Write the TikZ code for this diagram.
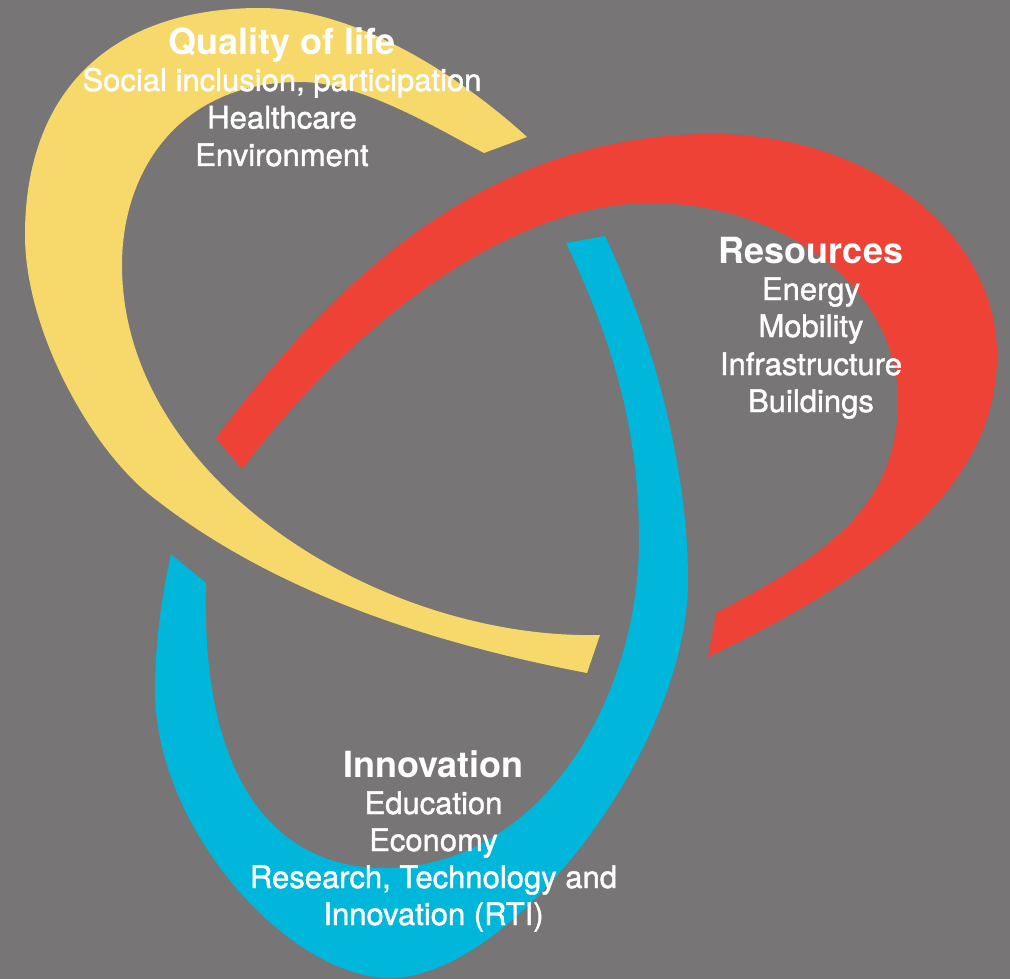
\documentclass[tikz,border=0pt]{standalone}
\usepackage{fontspec}
\setmainfont{TeX Gyre Heros}
\newfontfamily\medfont{TeX Gyre Heros}[RawFeature={embolden=1.3}]
\definecolor{bg}{HTML}{777576}
\definecolor{qyellow}{HTML}{F6D86B}
\definecolor{qred}{HTML}{EE4237}
\definecolor{qblue}{HTML}{00B6DB}
\begin{document}
\begin{tikzpicture}[x=1pt,y=-1pt,
  body/.style={text=white,font=\medfont\fontsize{31}{37}\selectfont,inner sep=0pt,anchor=base},
  head/.style={body,font=\fontsize{36}{40}\selectfont\bfseries}]
\fill[bg] (0,0) rectangle (1010,979);
\useasboundingbox (0,0) rectangle (1010,979);
% yellow band
\fill[qyellow] (527,137) .. controls (467,82) and (360,8) .. (260,8)
  .. controls (110,8) and (25,92) .. (25,235)
  .. controls (25,330) and (90,447) .. (150,495)
  .. controls (267,588) and (420,641) .. (587,673)
  -- (600,635)
  .. controls (380,640) and (122,480) .. (122,265)
  .. controls (122,170) and (180,82) .. (300,82)
  .. controls (360,82) and (431,125) .. (484,153) -- cycle;
% red band
\fill[qred] (216,438) .. controls (348,262) and (500,134) .. (713,134)
  .. controls (870,134) and (997,233) .. (997,355)
  .. controls (997,480) and (890,570) .. (708,657)
  -- (716,613)
  .. controls (822,557) and (898,510) .. (898,400)
  .. controls (898,291) and (787,203) .. (650,203)
  .. controls (520,203) and (364,309) .. (242,469) -- cycle;
% blue band
\fill[qblue] (605,236) .. controls (660,353) and (688,480) .. (688,580)
  .. controls (688,750) and (510,978) .. (390,978)
  .. controls (290,978) and (155,830) .. (155,690)
  .. controls (155,640) and (163,590) .. (171,554)
  -- (206,583)
  .. controls (200,800) and (290,868) .. (383,868)
  .. controls (540,868) and (639,700) .. (639,540)
  .. controls (639,440) and (618,351) .. (566,243) -- cycle;
% texts
\node[head] (q0) at (282,55) {Quality of life};
\node[body] (q1) at (282,91) {Social inclusion, participation};
\node[body] (q2) at (282,128.5) {Healthcare};
\node[body] (q3) at (282,166) {Environment};
\node[head] (r0) at (811,263) {Resources};
\node[body] (r1) at (811,300) {Energy};
\node[body] (r2) at (811,337) {Mobility};
\node[body] (r3) at (811,375) {Infrastructure};
\node[body] (r4) at (811,412) {Buildings};
\node[head] (i0) at (433.5,777) {Innovation};
\node[body] (i1) at (433.5,814) {Education};
\node[body] (i2) at (433.5,851) {Economy};
\node[body] (i3) at (433.5,888) {Research, Technology and};
\node[body] (i4) at (433.5,925) {Innovation (RTI)};
\end{tikzpicture}
\end{document}
